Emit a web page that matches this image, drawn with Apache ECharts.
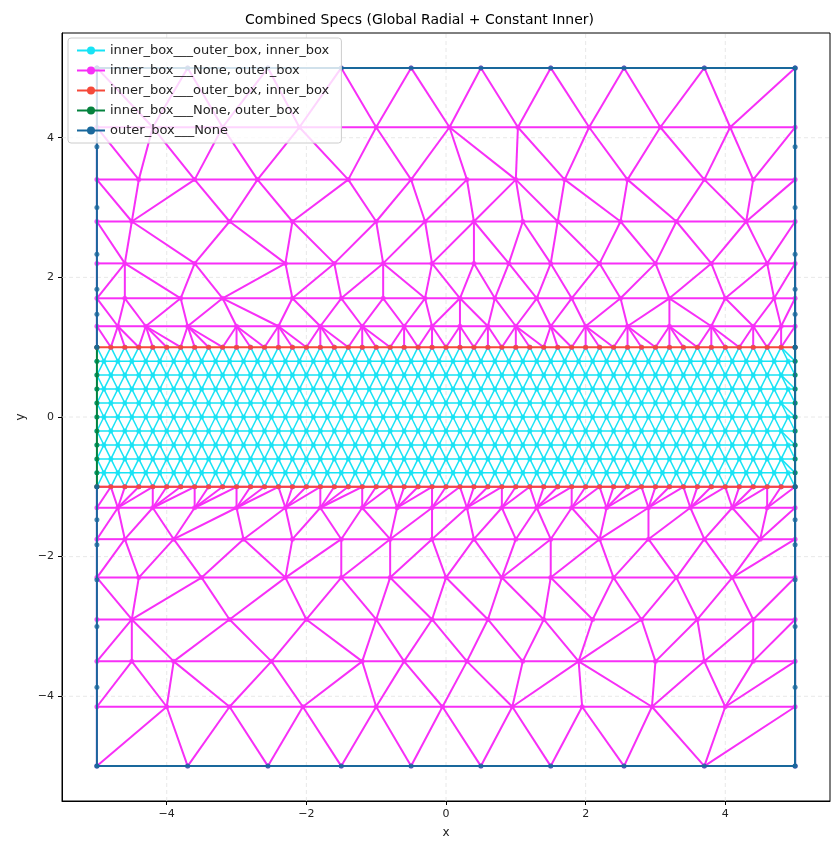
<!DOCTYPE html>
<html><head><meta charset="utf-8">
<script src="https://cdn.jsdelivr.net/npm/echarts@6/dist/echarts.min.js"></script>
<style>html,body{margin:0;padding:0;background:#fff}#c{width:839px;height:855px}</style>
</head><body><div id="c"></div>
<script>
// ---- data ----
const tickValues = [-4,-2,0,2,4];
const outerX = [-5,-3.7,-2.55,-1.5,-0.5,0.5,1.5,2.55,3.7,5];
const sideY = [5,3.87,3,2.33,1.83,1.47,1,-1,-1.47,-1.83,-2.33,-3,-3.87,-5];
const interfaceX = [-5,-4.8,-4.6,-4.4,-4.2,-4,-3.8,-3.6,-3.4,-3.2,-3,-2.8,-2.6,-2.4,-2.2,-2,-1.8,-1.6,-1.4,-1.2,-1,-0.8,-0.6,-0.4,-0.2,0,0.2,0.4,0.6,0.8,1,1.2,1.4,1.6,1.8,2,2.2,2.4,2.6,2.8,3,3.2,3.4,3.6,3.8,4,4.2,4.4,4.6,4.8,5];
const innerSideY = [-1,-0.8,-0.6,-0.4,-0.2,0,0.2,0.4,0.6,0.8,1];
const upperRowsY = [5,4.15,3.4,2.8,2.2,1.7,1.3];
const upperRowsX = [
 [-5,-3.7,-2.55,-1.5,-0.5,0.5,1.5,2.55,3.7,5],
 [-5,-4.2,-3.2,-2.1,-1.0,0.05,1.03,2.05,3.07,4.07,5],
 [-5,-4.4,-3.6,-2.7,-1.4,-0.5,0.3,1.0,1.7,2.6,3.7,4.4,5],
 [-5,-4.5,-3.1,-2.2,-1.0,-0.3,0.4,1.1,1.6,2.5,3.3,4.3,5],
 [-5,-4.6,-3.6,-2.3,-1.6,-0.9,-0.2,0.4,0.9,1.5,2.2,3.0,3.8,4.6,5],
 [-5,-4.6,-3.8,-3.2,-2.2,-1.5,-0.9,-0.3,0.2,0.7,1.3,1.8,2.5,3.2,4.0,4.7,5],
 [-5,-4.7,-4.3,-3.7,-3.0,-2.4,-1.8,-1.2,-0.6,-0.2,0.2,0.6,1.0,1.5,2.0,2.6,3.2,3.8,4.4,4.8,5]
];
const lowerRowsY = [-1.3,-1.75,-2.3,-2.9,-3.5,-4.15,-5];
const lowerRowsX = [
 [-5,-4.7,-4.2,-3.6,-3.0,-2.3,-1.8,-1.2,-0.7,-0.2,0.3,0.8,1.3,1.8,2.3,2.9,3.5,4.1,4.6,5],
 [-5,-4.6,-3.9,-2.9,-2.2,-1.5,-0.8,-0.2,0.4,1.0,1.5,2.2,2.9,3.7,4.5,5],
 [-5,-4.4,-3.5,-2.3,-1.5,-0.8,0,0.8,1.5,2.4,3.3,4.1,5],
 [-5,-4.5,-3.1,-2.0,-1.0,-0.2,0.6,1.4,2.1,2.8,3.6,4.4,5],
 [-5,-4.5,-3.9,-2.5,-1.2,-0.6,0.3,1.1,1.9,3.0,3.7,4.4,5],
 [-5,-4.0,-3.1,-2.05,-1.0,-0.05,0.95,1.95,2.95,4.0,5],
 [-5,-3.7,-2.55,-1.5,-0.5,0.5,1.5,2.55,3.7,5]
];
const legendNames = ['inner_box___outer_box, inner_box','inner_box___None, outer_box','inner_box___outer_box, inner_box ','inner_box___None, outer_box ','outer_box___None'];
const colors = ['#17e3f5','#f72ff7','#f5493a','#04823e','#19689c'];

// ---- build meshes ----
function rowPts(xs,y){return xs.map(x=>[x,y]);}
function stitch(a,b,segs){
  let i=0,j=0; segs.push([a[0],b[0]]);
  while(i<a.length-1||j<b.length-1){
    if(j>=b.length-1||(i<a.length-1&&a[i+1][0]<=b[j+1][0])) i++; else j++;
    segs.push([a[i],b[j]]);
  }
  for(let k=0;k<a.length-1;k++) segs.push([a[k],a[k+1]]);
}
const magSegs=[], magPts=[];
const upper = upperRowsY.map((y,k)=>rowPts(upperRowsX[k],y)).concat([rowPts(interfaceX,1)]);
const lower = [rowPts(interfaceX,-1)].concat(lowerRowsY.map((y,k)=>rowPts(lowerRowsX[k],y)));
[upper,lower].forEach(rows=>{for(let k=0;k<rows.length-1;k++){stitch(rows[k],rows[k+1],magSegs);} rows.forEach(r=>r.forEach(p=>magPts.push(p)));});
const cySegs=[], cyPts=[];
const innerRows = innerSideY.map((y,k)=>{
  if(k===0||k===innerSideY.length-1) return rowPts(interfaceX,y);
  const xs=[-5]; for(let m=0;m<interfaceX.length-1;m++){ if(k%2===1) xs.push((interfaceX[m]+interfaceX[m+1])/2); else if(m>0) xs.push(interfaceX[m]); } xs.push(5);
  return rowPts(xs,y);
});
for(let k=0;k<innerRows.length-1;k++) stitch(innerRows[k],innerRows[k+1],cySegs);
innerRows.forEach(r=>r.forEach(p=>cyPts.push(p)));
const redPts = interfaceX.map(x=>[x,1]).concat(interfaceX.map(x=>[x,-1]));
const greenPts = innerSideY.map(y=>[-5,y]).concat(innerSideY.map(y=>[5,y]));
const bluePts = outerX.map(x=>[x,5]).concat(outerX.map(x=>[x,-5]),sideY.map(y=>[-5,y]),sideY.map(y=>[5,y]));
const blueSegs=[[[-5,-5],[5,-5]],[[5,-5],[5,5]],[[5,5],[-5,5]],[[-5,5],[-5,1]],[[-5,-1],[-5,-5]],[[5,1],[5,5]],[[5,-1],[5,-5]]];
const greenSegs=[[[-5,-1],[-5,1]],[[5,-1],[5,1]]];
const redSegs=[[[-5,1],[5,1]],[[-5,-1],[5,-1]]];
const gridSegs = tickValues.map(v=>[[v,-5.5],[v,5.5]]).concat(tickValues.map(v=>[[-5.5,v],[5.5,v]]));

function lines(segs,c,w,z,type){return {type:'lines',coordinateSystem:'cartesian2d',polyline:true,data:segs.map(s=>({coords:s})),lineStyle:{color:c,width:w,opacity:1,type:type||'solid'},z:z,silent:true};}
function dots(pts,c,z){return {type:'scatter',data:pts,symbolSize:5,itemStyle:{color:c},z:z,silent:true};}
const fmt=v=>(v<0?'\u2212'+(-v):''+v);
const axisCommon = {type:'value',min:-5.5,max:5.5,
  axisLine:{show:true,onZero:false,lineStyle:{color:'#000',width:1}},
  axisTick:{show:true,customValues:tickValues,length:4,lineStyle:{color:'#000'}},
  axisLabel:{color:'#222',fontSize:11,fontFamily:'DejaVu Sans',customValues:tickValues,formatter:fmt},
  splitLine:{show:false},
  nameLocation:'middle',nameTextStyle:{color:'#222',fontSize:12,fontFamily:'DejaVu Sans'}};
const legendSeries = legendNames.map((n,i)=>({name:n,type:'line',data:[],symbol:'circle',symbolSize:5,itemStyle:{color:colors[i]},lineStyle:{color:colors[i],width:2}}));
const chart = echarts.init(document.getElementById('c'));
chart.setOption({
  animation:false,
  title:{text:'Combined Specs (Global Radial + Constant Inner)',left:'center',top:8,textStyle:{fontSize:14,fontWeight:'normal',color:'#000',fontFamily:'DejaVu Sans'}},
  grid:{left:62,right:9,top:33,bottom:54,show:true,borderColor:'#000',borderWidth:1,backgroundColor:'transparent'},
  xAxis:Object.assign({},axisCommon,{name:'x',nameGap:26}),
  yAxis:Object.assign({},axisCommon,{name:'y',nameGap:28}),
  legend:{z:50,orient:'vertical',left:68,top:38,itemGap:7,itemWidth:28,itemHeight:10,backgroundColor:'rgba(255,255,255,0.8)',borderColor:'#ccc',borderWidth:1,borderRadius:3,padding:[6,8],textStyle:{fontSize:13,color:'#222',fontFamily:'DejaVu Sans'},data:legendNames},
  series:[
    lines(gridSegs,'#e2e2e2',0.8,1,[4,3]),
    lines(cySegs,colors[0],1.5,2), dots(cyPts,colors[0],3),
    lines(magSegs,colors[1],2,2), dots(magPts,colors[1],3),
    lines(redSegs,colors[2],2,4), dots(redPts,colors[2],5),
    lines(greenSegs,colors[3],2,4), dots(greenPts,colors[3],5),
    lines(blueSegs,colors[4],2,6), dots(bluePts,colors[4],7)
  ].concat(legendSeries)
});
</script></body></html>
